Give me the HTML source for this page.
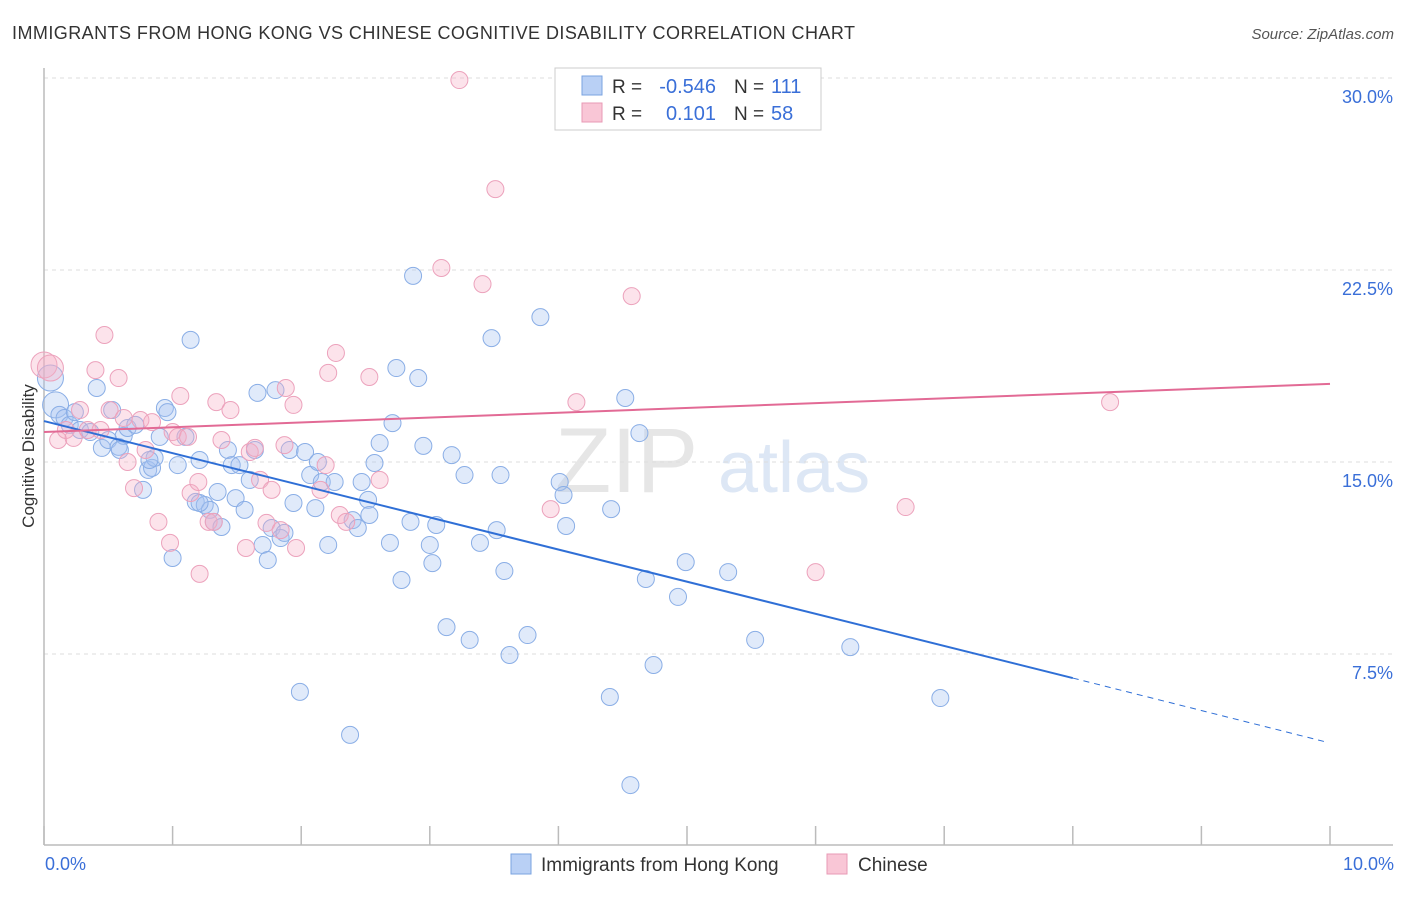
<!DOCTYPE html>
<html><head><meta charset="utf-8"><style>
body{margin:0;background:#fff;font-family:"Liberation Sans",sans-serif}
svg text{font-family:"Liberation Sans",sans-serif}
</style></head><body>
<svg id="chart" width="1406" height="892" xmlns="http://www.w3.org/2000/svg">
<text x="12" y="39" font-size="18" fill="#333" textLength="843" lengthAdjust="spacing">IMMIGRANTS FROM HONG KONG VS CHINESE COGNITIVE DISABILITY CORRELATION CHART</text>
<text x="1394" y="39" font-size="15" fill="#555" font-style="italic" text-anchor="end">Source: ZipAtlas.com</text>
<text x="555" y="492" font-size="92" fill="#e6e6e6" font-family="Liberation Serif">ZIP</text>
<text x="718" y="492" font-size="72" fill="#dde7f5">atlas</text>
<g id="grid"></g>
<g id="axes"></g>
<g id="pts"></g>
<g id="lines"></g>
<text transform="translate(34,456) rotate(-90)" font-size="17" fill="#333" text-anchor="middle">Cognitive Disability</text>
<g>
<rect x="555" y="68" width="266" height="62" fill="#fff" stroke="#ccc"/>
<rect x="582" y="76" width="20" height="19" fill="#b9d0f5" stroke="#7aa3e0"/>
<rect x="582" y="103" width="20" height="19" fill="#f9c6d6" stroke="#e89ab5"/>
<text x="612" y="93" font-size="19" fill="#333">R =</text>
<text x="716" y="93" font-size="20" fill="#3a6fd8" text-anchor="end">-0.546</text>
<text x="734" y="93" font-size="19" fill="#333">N =</text>
<text x="771" y="93" font-size="20" fill="#3a6fd8">111</text>
<text x="612" y="120" font-size="19" fill="#333">R =</text>
<text x="716" y="120" font-size="20" fill="#3a6fd8" text-anchor="end">0.101</text>
<text x="734" y="120" font-size="19" fill="#333">N =</text>
<text x="771" y="120" font-size="20" fill="#3a6fd8">58</text>
</g>
<g>
<rect x="511" y="854" width="20" height="20" fill="#b9d0f5" stroke="#7aa3e0"/>
<text x="541" y="871" font-size="19" fill="#333">Immigrants from Hong Kong</text>
<rect x="827" y="854" width="20" height="20" fill="#f9c6d6" stroke="#e89ab5"/>
<text x="858" y="871" font-size="19" fill="#333">Chinese</text>
</g>
</svg>
<script>
const yTicks=[7.5,15,22.5,30];
const yTickLabels=["7.5%","15.0%","22.5%","30.0%"];
const xTicks=[0,1,2,3,4,5,6,7,8,9,10];
const xTickLabels=["0.0%","10.0%"];
const blueX=[.05,.09,.12,.16,.20,.24,.28,.36,.41,.45,.50,.53,.58,.62,.65,.71,.77,.81,.84,.86,.90,.94,.96,1.00,1.04,1.10,1.14,1.18,1.21,1.25,1.29,1.32,1.35,1.38,1.43,1.46,1.49,1.52,1.56,1.60,1.64,1.66,1.70,1.74,1.77,1.80,1.84,1.87,1.91,1.94,1.99,2.03,2.07,2.11,2.13,2.16,2.21,2.26,2.38,2.40,2.44,2.47,2.52,2.53,2.57,2.61,2.69,2.71,2.74,2.78,2.85,2.87,2.91,2.95,3.00,3.02,3.05,3.13,3.17,3.27,3.31,3.39,3.48,3.55,3.52,3.58,3.62,3.76,3.86,4.01,4.04,4.06,4.40,4.41,4.52,4.56,4.63,4.68,4.74,4.93,4.99,5.32,5.53,6.27,6.97,1.21,0.82,0.59];
const blueY=[18.28,17.23,16.84,16.72,16.45,16.95,16.25,16.17,17.89,15.55,15.86,17.03,15.59,16.02,16.33,16.45,13.91,14.69,14.77,15.16,15.98,17.11,16.95,11.25,14.88,15.98,19.77,13.44,15.08,13.32,13.13,12.66,13.83,12.46,15.47,14.88,13.59,14.88,13.13,14.30,15.47,17.70,11.76,11.17,12.42,17.81,12.03,12.23,15.47,13.40,6.02,15.39,14.49,13.20,15.00,14.22,11.76,14.22,4.34,12.73,12.42,14.22,13.52,12.93,14.96,15.74,11.84,16.52,18.67,10.39,12.66,22.27,18.28,15.63,11.76,11.05,12.54,8.55,15.27,14.49,8.05,11.84,19.84,14.49,12.34,10.74,7.46,8.24,20.66,14.22,13.71,12.50,5.82,13.16,17.50,2.38,16.13,10.43,7.07,9.73,11.09,10.70,8.05,7.77,5.78,13.40,15.08,15.47];
const pinkX=[0,.05,.11,.17,.23,.28,.34,.40,.44,.47,.51,.58,.62,.65,.70,.75,.79,.84,.89,.98,1.00,1.04,1.06,1.12,1.14,1.20,1.21,1.28,1.32,1.34,1.38,1.45,1.57,1.60,1.64,1.68,1.73,1.77,1.84,1.87,1.88,1.94,1.96,2.15,2.19,2.21,2.27,2.30,2.35,2.53,2.61,3.09,3.23,3.41,3.51,3.94,4.14,4.57,6.00,6.70,8.29];
const pinkY=[18.79,18.67,15.86,16.25,15.94,17.03,16.25,18.59,16.25,19.96,17.03,18.28,16.72,15.00,13.98,16.64,15.47,16.56,12.66,11.84,16.17,15.98,17.58,15.98,13.79,14.22,10.63,12.66,12.66,17.34,15.86,17.03,11.64,15.39,15.55,14.30,12.62,13.91,12.34,15.66,17.89,17.23,11.64,13.91,14.88,18.48,19.26,12.93,12.66,18.32,14.30,22.58,29.92,21.95,25.66,13.16,17.34,21.48,10.70,13.24,17.34];
const blueLine=[16.60,4.05];
const pinkLine=[16.17,18.05];
const NS="http://www.w3.org/2000/svg";
const X0=44,X1=1330,Y0=846,PY=25.6;
function sx(v){return X0+(X1-X0)*v/10;}
function sy(v){return Y0-v*PY;}
function mk(tag,attrs,parent){const e=document.createElementNS(NS,tag);for(const k in attrs)e.setAttribute(k,attrs[k]);document.getElementById(parent).appendChild(e);return e;}
yTicks.forEach((t,i)=>{
 const l=mk('line',{x1:44,x2:1393,y1:sy(t),y2:sy(t),stroke:'#ddd','stroke-dasharray':'4,4'},'grid');
 
 
 const tx=mk('text',{x:1393,y:sy(t)+25,'font-size':18,fill:'#3a6fd8','text-anchor':'end'},'grid');
 tx.textContent=yTickLabels[i];
 
 
});
const ax=mk('line',{x1:44,x2:1393,y1:845,y2:845,stroke:'#bbb','stroke-width':1.5},'axes');


const ay=mk('line',{x1:44,x2:44,y1:68,y2:845,stroke:'#bbb','stroke-width':1.5},'axes');


xTicks.forEach(t=>{
 const l=mk('line',{x1:sx(t),x2:sx(t),y1:826,y2:845,stroke:'#bbb','stroke-width':1.5},'axes');
 
 
});
[[0,'start',45],[10,'end',1394]].forEach((a,i)=>{
 const tx=mk('text',{x:a[2],y:870,'font-size':18,fill:'#3a6fd8','text-anchor':a[1]},'axes');
 tx.textContent=xTickLabels[i];
 
 
});
function pts(xs,ys,fill,stroke,name){
 xs.forEach((x,i)=>{
  const r=(x<0.1)?13:8.5;
  const c=mk('circle',{cx:sx(x),cy:sy(ys[i]),r:r,fill:fill,stroke:stroke,'stroke-width':1},'pts');
  
  
 });
}
pts(blueX,blueY,'rgba(165,195,242,0.35)','#8aaee6','hong-kong-point');
pts(pinkX,pinkY,'rgba(246,175,198,0.35)','#eca2bc','chinese-point');
const bEnd=8.0, bMid=blueLine[0]+(blueLine[1]-blueLine[0])*bEnd/10;
const bl=mk('line',{x1:sx(0),y1:sy(blueLine[0]),x2:sx(bEnd),y2:sy(bMid),stroke:'#2f6fd6','stroke-width':2},'lines');


const bd=mk('line',{x1:sx(bEnd),y1:sy(bMid),x2:sx(9.98),y2:sy(blueLine[1]),stroke:'#2f6fd6','stroke-width':1,'stroke-dasharray':'6,5'},'lines');


const pl=mk('line',{x1:sx(0),y1:sy(pinkLine[0]),x2:sx(10),y2:sy(pinkLine[1]),stroke:'#e26a95','stroke-width':2},'lines');


</script>
</body></html>
